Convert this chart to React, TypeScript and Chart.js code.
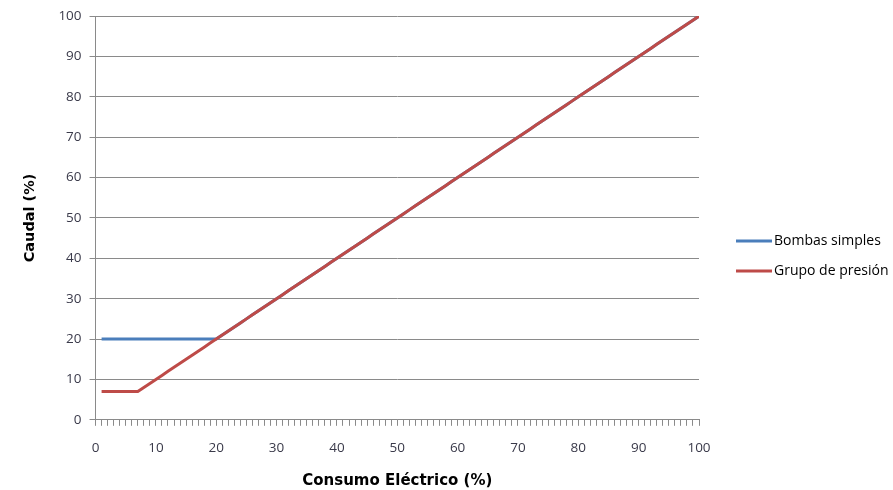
import { useEffect, useRef } from "react";
import { Chart, registerables } from "chart.js";

Chart.register(...registerables);

// Consumo eléctrico (%) – x values
const consumo = [
  1, 2, 3, 4, 5, 6, 7, 8, 9, 10,
  11, 12, 13, 14, 15, 16, 17, 18, 19, 20,
  21, 22, 23, 24, 25, 26, 27, 28, 29, 30,
  31, 32, 33, 34, 35, 36, 37, 38, 39, 40,
  41, 42, 43, 44, 45, 46, 47, 48, 49, 50,
  51, 52, 53, 54, 55, 56, 57, 58, 59, 60,
  61, 62, 63, 64, 65, 66, 67, 68, 69, 70,
  71, 72, 73, 74, 75, 76, 77, 78, 79, 80,
  81, 82, 83, 84, 85, 86, 87, 88, 89, 90,
  91, 92, 93, 94, 95, 96, 97, 98, 99, 100,
];

// Caudal (%) – Bombas simples
const bombasSimples = [
  20, 20, 20, 20, 20, 20, 20, 20, 20, 20,
  20, 20, 20, 20, 20, 20, 20, 20, 20, 20,
  21, 22, 23, 24, 25, 26, 27, 28, 29, 30,
  31, 32, 33, 34, 35, 36, 37, 38, 39, 40,
  41, 42, 43, 44, 45, 46, 47, 48, 49, 50,
  51, 52, 53, 54, 55, 56, 57, 58, 59, 60,
  61, 62, 63, 64, 65, 66, 67, 68, 69, 70,
  71, 72, 73, 74, 75, 76, 77, 78, 79, 80,
  81, 82, 83, 84, 85, 86, 87, 88, 89, 90,
  91, 92, 93, 94, 95, 96, 97, 98, 99, 100,
];

// Caudal (%) – Grupo de presión
const grupoPresion = [
  7, 7, 7, 7, 7, 7, 7, 8, 9, 10,
  11, 12, 13, 14, 15, 16, 17, 18, 19, 20,
  21, 22, 23, 24, 25, 26, 27, 28, 29, 30,
  31, 32, 33, 34, 35, 36, 37, 38, 39, 40,
  41, 42, 43, 44, 45, 46, 47, 48, 49, 50,
  51, 52, 53, 54, 55, 56, 57, 58, 59, 60,
  61, 62, 63, 64, 65, 66, 67, 68, 69, 70,
  71, 72, 73, 74, 75, 76, 77, 78, 79, 80,
  81, 82, 83, 84, 85, 86, 87, 88, 89, 90,
  91, 92, 93, 94, 95, 96, 97, 98, 99, 100,
];

const seriesNames = ["Bombas simples", "Grupo de presión"];
const seriesColors = ["#4a7ebb", "#be4b48"];
const xTitle = "Consumo Eléctrico (%)";
const yTitle = "Caudal (%)";

const FONT = "'Open Sans', Lato, sans-serif";
const TITLE_FONT = "'DejaVu Sans', 'Open Sans', sans-serif";
const GRID = "#8a8a8a";
const TICK_COLOR = "#3a3a4a";

const sideLegend = {
  id: "sideLegend",
  afterDraw(chart: any) {
    const { ctx, chartArea } = chart;
    const x0 = chartArea.right + 37;
    const cy = chart.height / 2 + 11;
    chart.data.datasets.forEach((ds: any, i: number) => {
      const y = cy - 15 + i * 30;
      ctx.save();
      ctx.strokeStyle = ds.borderColor;
      ctx.lineWidth = 3;
      ctx.beginPath();
      ctx.moveTo(x0, y);
      ctx.lineTo(x0 + 36, y);
      ctx.stroke();
      ctx.fillStyle = "#000";
      ctx.font = `14px ${FONT}`;
      ctx.textBaseline = "middle";
      ctx.textAlign = "left";
      ctx.fillText(ds.label, x0 + 38, y);
      ctx.restore();
    });
  },
};

export default function App() {
  const ref = useRef<HTMLCanvasElement | null>(null);

  useEffect(() => {
    if (!ref.current) return;
    const chart = new Chart(ref.current, {
      type: "line",
      data: {
        datasets: [
          {
            label: seriesNames[0],
            data: consumo.map((x, i) => ({ x, y: bombasSimples[i] })),
            borderColor: seriesColors[0],
            backgroundColor: seriesColors[0],
            borderWidth: 3,
            pointRadius: 0,
            tension: 0,
            order: 2,
          },
          {
            label: seriesNames[1],
            data: consumo.map((x, i) => ({ x, y: grupoPresion[i] })),
            borderColor: seriesColors[1],
            backgroundColor: seriesColors[1],
            borderWidth: 3,
            pointRadius: 0,
            tension: 0,
            order: 1,
          },
        ],
      },
      options: {
        responsive: false,
        animation: false,
        devicePixelRatio: 1,
        layout: { padding: { top: 16, right: 194, left: 18, bottom: 0 } },
        plugins: {
          legend: { display: false },
          tooltip: { enabled: false },
        },
        scales: {
          x: {
            type: "linear",
            min: 0,
            max: 100,
            ticks: {
              stepSize: 1,
              autoSkip: false,
              maxRotation: 0,
              maxTicksLimit: 200,
              padding: 14,
              color: TICK_COLOR,
              font: { family: FONT, size: 13.5 },
              callback: (v: any) => (Number(v) % 10 === 0 ? String(v) : ""),
            },
            grid: {
              display: true,
              drawOnChartArea: false,
              drawTicks: true,
              tickLength: 6,
              color: GRID,
            },
            border: { color: GRID },
            title: {
              display: true,
              text: xTitle,
              color: "#000",
              font: { family: TITLE_FONT, size: 15, weight: "bold" },
              padding: { top: 2, bottom: 0 },
            },
          },
          y: {
            min: 0,
            max: 100,
            ticks: {
              stepSize: 10,
              padding: 8,
              color: TICK_COLOR,
              font: { family: FONT, size: 13.5 },
            },
            grid: { color: GRID, tickLength: 6 },
            border: { color: GRID },
            title: {
              display: true,
              text: yTitle,
              color: "#000",
              font: { family: TITLE_FONT, size: 14.5, weight: "bold" },
              padding: { top: 4, bottom: 11 },
            },
          },
        },
      },
      plugins: [sideLegend],
    });
    return () => chart.destroy();
  }, []);

  return (
    <div style={{ position: "absolute", left: 0, top: 0, width: 893, height: 490, background: "#fff" }}>
      <canvas ref={ref} width={893} height={490} />
    </div>
  );
}
